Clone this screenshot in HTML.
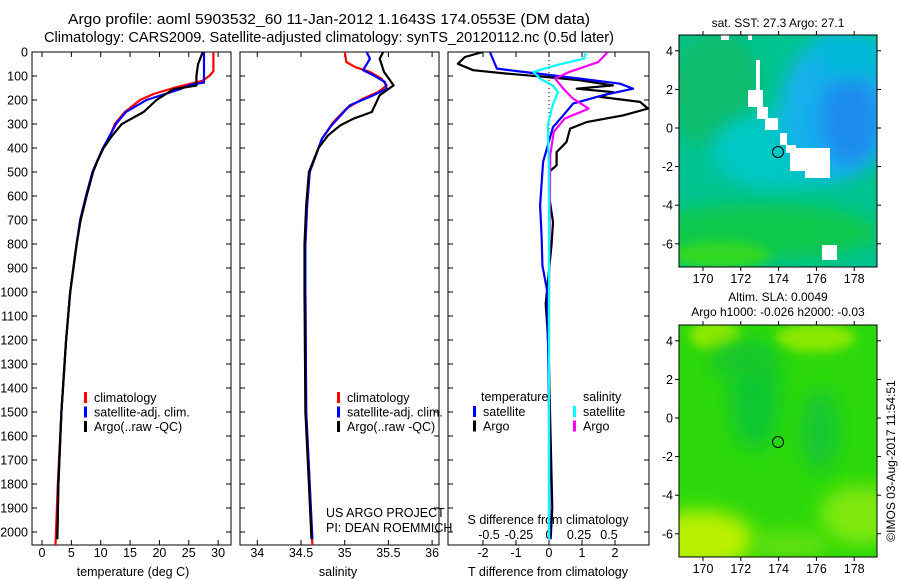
<!DOCTYPE html>
<html><head><meta charset="utf-8"><style>
html,body{margin:0;padding:0;background:#fff;}
svg{display:block;font-family:"Liberation Sans",sans-serif;}
</style></head><body>
<svg id="chart" width="900" height="580" viewBox="0 0 900 580" xmlns="http://www.w3.org/2000/svg">
<defs>
<clipPath id="c1"><rect x="32" y="52" width="199" height="493"/></clipPath>
<clipPath id="c2"><rect x="240" y="52" width="199" height="493"/></clipPath>
<clipPath id="c3"><rect x="448" y="52" width="201" height="493"/></clipPath>
<clipPath id="m1"><rect x="679" y="35" width="198" height="232"/></clipPath>
<clipPath id="m2"><rect x="679" y="325" width="198" height="232"/></clipPath>
<filter id="bl" x="-50%" y="-50%" width="200%" height="200%"><feGaussianBlur stdDeviation="9"/></filter>
<filter id="bl2" x="-50%" y="-50%" width="200%" height="200%"><feGaussianBlur stdDeviation="5"/></filter>
</defs>
<text x="329" y="24" font-size="14.5" text-anchor="middle" textLength="522" lengthAdjust="spacingAndGlyphs">Argo profile: aoml 5903532_60 11-Jan-2012 1.1643S 174.0553E (DM data)</text>
<text x="329" y="42" font-size="14.5" text-anchor="middle" textLength="570" lengthAdjust="spacingAndGlyphs">Climatology: CARS2009. Satellite-adjusted climatology: synTS_20120112.nc (0.5d later)</text>

<!-- Map 1 -->
<g>
<text x="778" y="27" font-size="12" text-anchor="middle">sat. SST: 27.3 Argo: 27.1</text>
<g clip-path="url(#m1)">
<rect x="679" y="35" width="198" height="232" fill="#00c490"/>
<ellipse cx="715" cy="90" rx="45" ry="60" fill="#08bc6c" filter="url(#bl)"/>
<ellipse cx="780" cy="150" rx="70" ry="40" fill="#00c8c4" filter="url(#bl)"/>
<ellipse cx="835" cy="110" rx="55" ry="70" fill="#12b0ec" filter="url(#bl)"/>
<ellipse cx="850" cy="120" rx="30" ry="45" fill="#1a8cf0" filter="url(#bl)"/>
<ellipse cx="850" cy="55" rx="35" ry="22" fill="#06b8d8" filter="url(#bl)"/>
<ellipse cx="760" cy="232" rx="120" ry="28" fill="#0cc84c" filter="url(#bl)"/>
<ellipse cx="720" cy="255" rx="50" ry="14" fill="#30d824" filter="url(#bl2)"/>
<rect x="721" y="35" width="8" height="5" fill="#fff"/>
<rect x="748" y="35" width="4" height="5" fill="#fff"/>
<rect x="756" y="60" width="4" height="37" fill="#fff"/>
<rect x="748" y="90" width="15" height="17" fill="#fff"/>
<rect x="757" y="107" width="11" height="12" fill="#fff"/>
<rect x="765" y="118" width="13" height="12" fill="#fff"/>
<rect x="780" y="133" width="7" height="12" fill="#fff"/>
<rect x="786" y="145" width="10" height="8" fill="#fff"/>
<rect x="790" y="148" width="40" height="23" fill="#fff"/>
<rect x="805" y="168" width="25" height="10" fill="#fff"/>
<rect x="822" y="245" width="15" height="15" fill="#fff"/>
</g>
<rect x="679" y="35" width="198" height="232" fill="none" stroke="#000" stroke-width="1"/>
<circle cx="778" cy="152" r="5.5" fill="none" stroke="#000" stroke-width="1"/>
<g id="m1ticks"></g>
</g>

<!-- Map 2 -->
<g>
<text x="778" y="301" font-size="12" text-anchor="middle">Altim. SLA: 0.0049</text>
<text x="778" y="316" font-size="12" text-anchor="middle">Argo h1000: -0.026 h2000: -0.03</text>
<g clip-path="url(#m2)">
<rect x="679" y="325" width="198" height="232" fill="#2cd80a"/>
<ellipse cx="715" cy="335" rx="25" ry="15" fill="#8ee806" filter="url(#bl2)"/>
<ellipse cx="815" cy="338" rx="40" ry="14" fill="#8ae806" filter="url(#bl2)"/>
<ellipse cx="755" cy="400" rx="25" ry="50" fill="#10c830" filter="url(#bl)"/>
<ellipse cx="745" cy="360" rx="35" ry="20" fill="#14c82c" filter="url(#bl)"/>
<ellipse cx="820" cy="430" rx="20" ry="40" fill="#14c830" filter="url(#bl)"/>
<ellipse cx="700" cy="540" rx="55" ry="30" fill="#b8f000" filter="url(#bl)"/>
<ellipse cx="860" cy="515" rx="40" ry="30" fill="#7ee80a" filter="url(#bl)"/>
<ellipse cx="790" cy="545" rx="40" ry="15" fill="#60e00c" filter="url(#bl)"/>
</g>
<rect x="679" y="325" width="198" height="232" fill="none" stroke="#000" stroke-width="1"/>
<circle cx="778" cy="442" r="5.5" fill="none" stroke="#000" stroke-width="1"/>
<g id="m2ticks"></g>
<text transform="translate(895,461) rotate(-90)" font-size="12" text-anchor="middle">©IMOS 03-Aug-2017 11:54:51</text>
</g>

<g id="plots"></g>
</svg>
<script>
// ---- data ----
const depthTicks = [0,100,200,300,400,500,600,700,800,900,1000,1100,1200,1300,1400,1500,1600,1700,1800,1900,2000];
const tempTicks = [0,5,10,15,20,25,30];
const salTicks = [34,34.5,35,35.5,36];
const salTickLabels = ["34","34.5","35","35.5","36"];
const tdiffTicks = [-2,-1,0,1,2];
const sdiffTicks = [-0.5,-0.25,0,0.25,0.5];
const sdiffTickLabels = ["-0.5","-0.25","0","0.25","0.5"];

const climTempDepth = [0,80,100,120,150,175,200,250,300,350,400,500,600,700,800,1000,1200,1500,1800,2055];
const climTemp = [29.2,29.2,28.5,27.3,22.4,19,16.7,14.1,12.4,11.6,10.4,8.6,7.5,6.5,5.9,4.8,4.1,3.3,2.7,2.3];
const satTempDepth = [0,128,135,155,200,250,300,350,400,500,600,700,800,1000,1200,1500,1800,2030];
const satTemp = [27.6,27.6,25.5,23.5,17.8,14.3,12.6,11.5,10.4,8.6,7.5,6.5,5.9,4.8,4.1,3.3,2.8,2.6];
const argoTempDepth = [0,50,100,140,155,200,250,300,350,400,450,500,600,700,800,1000,1200,1500,1800,2030];
const argoTemp = [27.4,26.6,26.3,26.3,22.4,19.5,17.3,13.6,11.9,10.5,9.5,8.7,7.6,6.6,5.9,4.8,4.1,3.3,2.8,2.6];

const climSalDepth = [0,42,63,83,111,139,167,194,236,292,361,500,639,800,1000,1500,1800,2055];
const climSal = [35.0,35.02,35.12,35.29,35.42,35.48,35.38,35.21,35.02,34.87,34.74,34.60,34.57,34.55,34.55,34.56,34.6,34.63];
const satSalDepth = [0,28,76,97,125,153,180,222,306,361,500,639,800,1000,1500,1800,2030];
const satSal = [35.25,35.29,35.21,35.33,35.46,35.48,35.33,35.06,34.85,34.74,34.60,34.57,34.55,34.55,34.56,34.6,34.63];
const argoSalDepth = [0,28,83,139,180,250,278,306,347,400,500,639,800,1000,1500,1800,2030];
const argoSal = [35.44,35.40,35.45,35.56,35.40,35.31,35.10,34.95,34.81,34.70,34.59,34.56,34.54,34.54,34.55,34.59,34.62];

const satTdiffDepth = [0,69,83,111,132,153,180,215,264,313,458,639,778,889,1000,1500,2030];
const satTdiff = [-1.79,-1.58,-0.78,0.94,2.15,2.55,1.64,0.73,0.43,0.12,-0.18,-0.27,-0.22,-0.2,-0.05,0.0,0.02];
const argoTdiffDepth = [0,21,49,76,90,104,118,139,153,167,187,208,236,264,292,319,375,417,472,500,597,708,800,1050,1150,1300,1500,1900,2030];
const argoTdiff = [-2.0,-2.55,-2.76,-2.3,-1.28,-0.07,0.94,1.94,0.84,1.94,1.55,2.76,3.0,2.24,1.14,0.64,0.53,0.23,0.23,0.0,0.0,0.12,0.08,-0.1,-0.05,0.0,0.03,0.1,0.05];
const satSdiffDepth = [0,28,55,83,111,139,167,222,306,500,1000,2030];
const satSdiff = [0.31,0.29,0.06,-0.13,-0.075,0.03,0.075,0.03,-0.01,0.0,0.0,0.0];
const argoSdiffDepth = [0,42,83,111,153,194,236,278,333,430,1000,2030];
const argoSdiff = [0.49,0.41,0.17,0.05,0.12,0.2,0.33,0.13,0.04,0.01,0.0,0.0];

const mapLonTicks = [170,172,174,176,178];
const mapLatTicks = [4,2,0,-2,-4,-6];

// ---- axes ----
const NS = "http://www.w3.org/2000/svg";
const plots = document.getElementById('plots');
const yD = d => 52 + d * 0.24;
const xT = t => 42 + t * 5.87;
const xS = s => 257.3 + (s - 34) * 87.4;
const xTd = t => 549 + t * 33;
const xSd = s => 549 + s * 120;
const PB = 545;
function el(tag, attrs, parent) {
  const e = document.createElementNS(NS, tag);
  for (const k in attrs) e.setAttribute(k, attrs[k]);
  (parent || plots).appendChild(e);
  return e;
}
function txt(x, y, s, anchor, size, parent) {
  const t = el('text', {x: x, y: y, 'font-size': size || 12.5, 'text-anchor': anchor || 'middle'}, parent);
  t.textContent = s;
  return t;
}
function frame(x0, x1, name) {
  const r = el('rect', {x: x0, y: 52, width: x1 - x0, height: PB - 52, fill: 'none', stroke: '#000', 'stroke-width': 1});
  
  
  depthTicks.forEach(d => {
    el('line', {x1: x0, x2: x0 + 5, y1: yD(d), y2: yD(d), stroke: '#000'});
    el('line', {x1: x1 - 5, x2: x1, y1: yD(d), y2: yD(d), stroke: '#000'});
  });
}
function xticks(vals, labels, sc, y, name, top) {
  const g = el('g', {});
  
  
  vals.forEach((v, i) => {
    const x = sc(v);
    el('line', {x1: x, x2: x, y1: PB, y2: PB - 5, stroke: '#000'}, g);
    if (top) el('line', {x1: x, x2: x, y1: 52, y2: 57, stroke: '#000'}, g);
    txt(x, y, labels[i], 'middle', 12.5, g);
  });
}
function line(ds, vs, sc, color, clip, name, w) {
  const pts = ds.map((d, i) => sc(vs[i]).toFixed(1) + ',' + yD(d).toFixed(1)).join(' ');
  const p = el('polyline', {points: pts, fill: 'none', stroke: color, 'stroke-width': w || 2.2, 'clip-path': 'url(#' + clip + ')', 'stroke-linejoin': 'round'});
  
  
}
function legendMark(x, y, color, parent) {
  el('rect', {x: x, y: y - 10, width: 3, height: 11, fill: color}, parent);
}

const dl = el('g', {});


depthTicks.forEach(d => txt(28, yD(d) + 4.5, String(d), 'end', 12.5, dl));

frame(32, 231, 'temperature-panel');
xticks(tempTicks, tempTicks.map(String), xT, 557, 'temperature-x-ticks', true);
const t1 = txt(133, 576, 'temperature (deg C)');


line(climTempDepth, climTemp, xT, '#f00', 'c1', 'temp-climatology-line');
line(satTempDepth, satTemp, xT, '#00f', 'c1', 'temp-satellite-line');
line(argoTempDepth, argoTemp, xT, '#000', 'c1', 'temp-argo-line');

frame(240, 439, 'salinity-panel');
xticks(salTicks, salTickLabels, xS, 557, 'salinity-x-ticks', true);
const t2 = txt(338, 576, 'salinity');


line(climSalDepth, climSal, xS, '#f00', 'c2', 'sal-climatology-line');
line(satSalDepth, satSal, xS, '#00f', 'c2', 'sal-satellite-line');
line(argoSalDepth, argoSal, xS, '#000', 'c2', 'sal-argo-line');

frame(448, 649, 'difference-panel');
const zl = el('line', {x1: 549, x2: 549, y1: 52, y2: PB, stroke: '#000', 'stroke-dasharray': '1,3'});


xticks(tdiffTicks, tdiffTicks.map(String), xTd, 557, 'tdiff-x-ticks', true);
const sg = el('g', {});


sdiffTicks.forEach((v, i) => txt(xSd(v), 539, sdiffTickLabels[i], 'middle', 12.5, sg));
const t3 = txt(548, 576, 'T difference from climatology');


const t4 = txt(548, 524, 'S difference from climatology');


line(argoTdiffDepth, argoTdiff, xTd, '#000', 'c3', 'tdiff-argo-line');
line(satTdiffDepth, satTdiff, xTd, '#00f', 'c3', 'tdiff-satellite-line');
line(argoSdiffDepth, argoSdiff, xSd, '#f0f', 'c3', 'sdiff-argo-line');
line(satSdiffDepth, satSdiff, xSd, '#0ff', 'c3', 'sdiff-satellite-line');

function legend(x, y0, items, name) {
  const g = el('g', {});
  
  
  items.forEach((it, i) => {
    const y = y0 + i * 14.5;
    if (it[1]) legendMark(x, y, it[1], g);
    txt(x + 10, y, it[0], 'start', 12.5, g);
  });
}
legend(84, 402, [['climatology', '#f00'], ['satellite-adj. clim.', '#00f'], ['Argo(..raw -QC)', '#000']], 'temperature-legend');
legend(337, 402, [['climatology', '#f00'], ['satellite-adj. clim.', '#00f'], ['Argo(..raw -QC)', '#000']], 'salinity-legend');
txt(481, 401, 'temperature', 'start', 12.5);
legend(473, 416, [['satellite', '#00f'], ['Argo', '#000']], 'tdiff-legend');
txt(583, 401, 'salinity', 'start', 12.5);
legend(573, 416, [['satellite', '#0ff'], ['Argo', '#f0f']], 'sdiff-legend');
const c1 = txt(326, 517, 'US ARGO PROJECT', 'start', 12.5);


const c2 = txt(326, 532, 'PI: DEAN ROEMMICH', 'start', 12.5);



function mapTicks(gid, top, lat0y) {
  const g = document.getElementById(gid);
  const bot = top + 232;
  mapLonTicks.forEach(l => {
    const x = 703 + (l - 170) * 18.9;
    el('line', {x1: x, x2: x, y1: top, y2: top - 4, stroke: '#000'}, g);
    el('line', {x1: x, x2: x, y1: bot, y2: bot + 4, stroke: '#000'}, g);
    txt(x, bot + 16, String(l), 'middle', 12.5, g);
  });
  mapLatTicks.forEach(l => {
    const y = lat0y - l * 19.3;
    el('line', {x1: 679, x2: 675, y1: y, y2: y, stroke: '#000'}, g);
    el('line', {x1: 877, x2: 881, y1: y, y2: y, stroke: '#000'}, g);
    txt(673, y + 4.5, String(l), 'end', 12.5, g);
  });
}
mapTicks('m1ticks', 35, 128);
mapTicks('m2ticks', 325, 418);
</script>
</body></html>
